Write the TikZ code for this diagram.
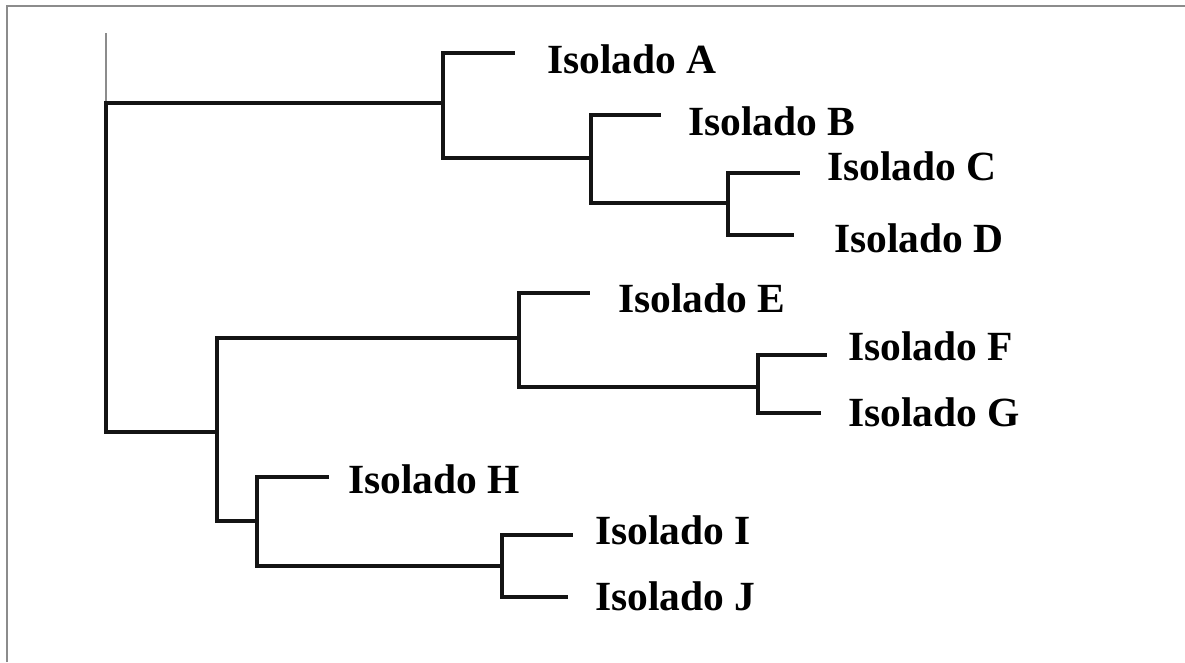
\documentclass[tikz,border=0pt]{standalone}
\usepackage{fontspec}
\setmainfont{Liberation Serif}
\begin{document}
\begin{tikzpicture}[x=1pt,y=-1pt,
  branch/.style={line width=4pt,color=black!92,line cap=rect,line join=miter},
  stem/.style={line width=1.8pt,color=black!45},
  frame/.style={line width=1.8pt,color=black!45},
  leaf/.style={anchor=base west,inner sep=0pt,font=\fontsize{41.5}{45}\selectfont\bfseries}]
\useasboundingbox (0,0) rectangle (1185,662);
\fill[white] (0,0) rectangle (1185,662);
\draw[frame] (7,662) -- (7,6) -- (1185,6);
% coordinates
\coordinate (r0) at (106,33);
\coordinate (rt) at (106,103);
\coordinate (rb) at (106,432);
\coordinate (n1t) at (443,53);  \coordinate (n1m) at (443,103); \coordinate (n1b) at (443,158);
\coordinate (n2t) at (591,115); \coordinate (n2m) at (591,158); \coordinate (n2b) at (591,203);
\coordinate (n3t) at (728,173); \coordinate (n3m) at (728,203); \coordinate (n3b) at (728,235);
\coordinate (n4t) at (217,338); \coordinate (n4m) at (217,432); \coordinate (n4b) at (217,521);
\coordinate (n5t) at (519,293); \coordinate (n5m) at (519,338); \coordinate (n5b) at (519,387);
\coordinate (n6t) at (758,355); \coordinate (n6m) at (758,387); \coordinate (n6b) at (758,413);
\coordinate (n7t) at (257,477); \coordinate (n7m) at (257,521); \coordinate (n7b) at (257,566);
\coordinate (n8t) at (502,535); \coordinate (n8m) at (502,566); \coordinate (n8b) at (502,597);
\coordinate (ta) at (513,53);
\coordinate (tb) at (659,115);
\coordinate (tc) at (798,173);
\coordinate (td) at (792,235);
\coordinate (te) at (588,293);
\coordinate (tf) at (825,355);
\coordinate (tg) at (819,413);
\coordinate (th) at (327,477);
\coordinate (ti) at (571,535);
\coordinate (tj) at (566,597);
% labels
\node[leaf] (la) at (547,73) {Isolado A};
\node[leaf] (lb) at (688,135) {Isolado B};
\node[leaf] (lc) at (827,180) {Isolado C};
\node[leaf] (ld) at (834,252) {Isolado D};
\node[leaf] (le) at (618,312) {Isolado E};
\node[leaf] (lf) at (848,360) {Isolado F};
\node[leaf] (lg) at (848,426) {Isolado G};
\node[leaf] (lh) at (348,493) {Isolado H};
\node[leaf] (li) at (595,544) {Isolado I};
\node[leaf] (lj) at (595,610) {Isolado J};
% tree
\draw[stem] (r0) -- (rt);
\draw[branch] (rt) -- (rb);
\draw[branch] (rt) -- (n1m);
\draw[branch] (rb) -- (n4m);
\draw[branch] (ta) -- (n1t) -- (n1b) -- (n2m);
\draw[branch] (tb) -- (n2t) -- (n2b) -- (n3m);
\draw[branch] (tc) -- (n3t) -- (n3b) -- (td);
\draw[branch] (n5m) -- (n4t) -- (n4b) -- (n7m);
\draw[branch] (te) -- (n5t) -- (n5b) -- (n6m);
\draw[branch] (tf) -- (n6t) -- (n6b) -- (tg);
\draw[branch] (th) -- (n7t) -- (n7b) -- (n8m);
\draw[branch] (ti) -- (n8t) -- (n8b) -- (tj);
\end{tikzpicture}
\end{document}
